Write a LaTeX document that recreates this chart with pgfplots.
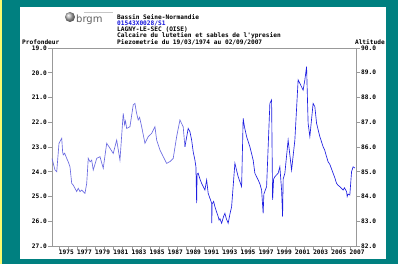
\documentclass[border=0pt]{standalone}
\usepackage{pgfplots}
\pgfplotsset{compat=1.18}
\usepackage{fontspec}
\setmainfont{DejaVu Sans}
\newfontfamily\pix{DejaVu Sans Mono}
\definecolor{bgteal}{RGB}{0,128,128}
\definecolor{stripyellow}{RGB}{250,250,110}
\definecolor{lightline}{RGB}{105,105,225}
\definecolor{darkline}{RGB}{30,30,225}
\definecolor{linkblue}{RGB}{20,20,220}
\newcommand{\pixfont}{\pix\bfseries\fontsize{6.2}{7}\selectfont}
\begin{document}
\begin{tikzpicture}[x=1bp,y=1bp]
\fill[bgteal] (0,0) rectangle (398,264);
\fill[stripyellow] (0,0) rectangle (2,264);
\fill[white] (20,5) rectangle (386,257);
% logo
\shade[ball color=gray!60] (70,247) circle (5);
\draw[gray!45, line width=0.8] (84,251.5) -- (113,251.5);
\node[anchor=west, inner sep=0, text=gray!75!black, font=\fontsize{10}{10}\selectfont] at (76,244.5) {brgm};
% title lines
\node[anchor=west, inner sep=0, font=\pixfont] at (117,247) {Bassin Seine-Normandie};
\node[anchor=west, inner sep=0, font=\pixfont, text=linkblue] at (117,240.5) {01543X0028/S1};
\node[anchor=west, inner sep=0, font=\pixfont] at (117,234) {LAGNY-LE-SEC (OISE)};
\node[anchor=west, inner sep=0, font=\pixfont] at (117,228) {Calcaire du lutetien et sables de l'ypresien};
\node[anchor=west, inner sep=0, font=\pixfont] at (117,222) {Piezometrie du 19/03/1974 au 02/09/2007};
\node[anchor=west, inner sep=0, font=\pixfont] at (22,222) {Profondeur};
\node[anchor=east, inner sep=0, font=\pixfont] at (385,222) {Altitude};
\begin{axis}[
  at={(52bp,18bp)}, anchor=south west,
  scale only axis, width=304bp, height=198bp,
  xmin=1974.21, xmax=2007.67, ymin=19, ymax=27, y dir=reverse,
  axis line style={gray!80, line width=0.8bp},
  tick style={gray!80, line width=0.6bp},
  tick align=outside,
  major tick length=4bp, minor tick length=3bp,
  xtick pos=bottom, ytick pos=left,
  xtick={1975,1977,...,2007},
  xticklabels={1975,1977,1979,1981,1983,1985,1987,1989,1991,1993,1995,1997,1999,2001,2003,2005,2007},
  minor xtick={1976,1978,...,2006},
  ytick={19,...,27},
  yticklabels={19.0,20.0,21.0,22.0,23.0,24.0,25.0,26.0,27.0},
  tick label style={font=\pixfont},
  xticklabel style={anchor=north west, xshift=-1.5bp, yshift=1bp, inner sep=1bp},
  yticklabel style={inner sep=1bp},
  clip=true,
]
\addplot[lightline, line width=0.65bp] coordinates {
(1974.21,23.46) (1974.54,23.93) (1974.73,24.0) (1974.98,22.85) (1975.28,22.65)
(1975.38,23.2) (1975.45,23.32) (1975.6,23.25) (1975.83,23.46) (1976.0,23.6) (1976.19,23.8)
(1976.38,24.47) (1976.55,24.54) (1976.74,24.67) (1976.93,24.8) (1977.10,24.67)
(1977.29,24.8) (1977.48,24.74) (1977.84,24.87) (1978.03,24.47) (1978.20,23.46)
(1978.4,23.6) (1978.58,23.53) (1978.75,23.93) (1979.13,23.46) (1979.49,23.39)
(1979.85,23.86) (1980.23,22.85) (1980.59,23.05) (1980.95,23.26) (1981.33,22.72)
(1981.5,23.1) (1981.69,23.53) (1982.05,21.64) (1982.2,22.1) (1982.3,21.95)
(1982.43,22.25) (1982.79,22.18) (1983.15,21.30) (1983.34,21.24) (1983.5,21.6)
(1983.70,21.91) (1983.85,21.8) (1984.08,22.18) (1984.25,22.5) (1984.44,22.85)
(1984.80,22.58) (1985.18,22.45) (1985.54,22.18) (1985.73,22.72) (1986.09,23.12)
(1986.45,23.39) (1986.83,23.66) (1987.19,23.59) (1987.55,23.46) (1987.93,22.58)
(1988.29,21.91) (1988.65,22.18) (1988.84,22.99)
};
\addplot[darkline, line width=0.65bp] coordinates {
(1988.84,22.99) (1989.20,22.25) (1989.39,22.38) (1989.58,22.72) (1989.75,23.19)
(1989.94,23.53) (1990.05,23.8) (1990.13,25.27) (1990.18,24.1) (1990.30,24.06)
(1990.50,24.3) (1990.68,24.47) (1991.04,24.74) (1991.23,24.33) (1991.40,24.87)
(1991.78,25.27) (1991.80,26.08) (1991.83,25.3) (1992.0,25.2) (1992.14,25.41)
(1992.30,25.6) (1992.50,25.81) (1992.6,25.95) (1992.70,25.9) (1992.88,26.08)
(1993.1,25.8) (1993.24,25.68) (1993.40,25.9) (1993.60,26.08) (1993.8,25.7)
(1993.98,25.41) (1994.34,23.66) (1994.5,23.9) (1994.70,24.2) (1995.08,24.6)
(1995.25,21.84) (1995.40,22.2) (1995.63,22.58) (1995.99,22.99) (1996.2,23.3)
(1996.35,23.53) (1996.54,24.06) (1996.90,24.33) (1997.1,24.5) (1997.28,24.74)
(1997.45,25.68) (1997.53,24.9) (1997.83,24.6) (1998.19,21.24) (1998.38,21.1)
(1998.49,25.14) (1998.60,24.3) (1998.74,24.2) (1999.10,24.06) (1999.29,23.8)
(1999.48,24.74) (1999.59,25.81) (1999.65,24.3) (1999.84,24.06) (2000.20,22.72)
(2000.58,23.93) (2000.94,22.72) (2001.30,20.29) (2001.49,20.43) (2001.85,20.7)
(2002.04,20.29) (2002.23,19.75) (2002.40,22.04) (2002.59,22.58) (2002.95,21.24)
(2003.14,21.37) (2003.33,22.04) (2003.5,22.3) (2003.69,22.58) (2004.05,22.99)
(2004.2,23.1) (2004.43,23.39) (2004.6,23.6) (2004.79,23.7) (2005.15,24.06)
(2005.3,24.2) (2005.53,24.47) (2005.7,24.55) (2005.89,24.6) (2006.25,24.74)
(2006.4,24.65) (2006.63,24.8) (2006.7,25.0) (2006.80,24.9) (2006.99,24.94)
(2007.18,24.0) (2007.35,23.8) (2007.54,23.85)
};
\end{axis}
\begin{axis}[
  at={(52bp,18bp)}, anchor=south west,
  scale only axis, width=304bp, height=198bp,
  xmin=1974.21, xmax=2007.67, ymin=82, ymax=90,
  axis y line*=right, axis x line=none,
  axis line style={gray!80, line width=0.8bp},
  tick style={gray!80, line width=0.6bp},
  tick align=outside, major tick length=4bp,
  ytick={82,...,90},
  yticklabels={82.0,83.0,84.0,85.0,86.0,87.0,88.0,89.0,90.0},
  tick label style={font=\pixfont},
  yticklabel style={inner sep=1bp},
]
\end{axis}
\end{tikzpicture}
\end{document}
